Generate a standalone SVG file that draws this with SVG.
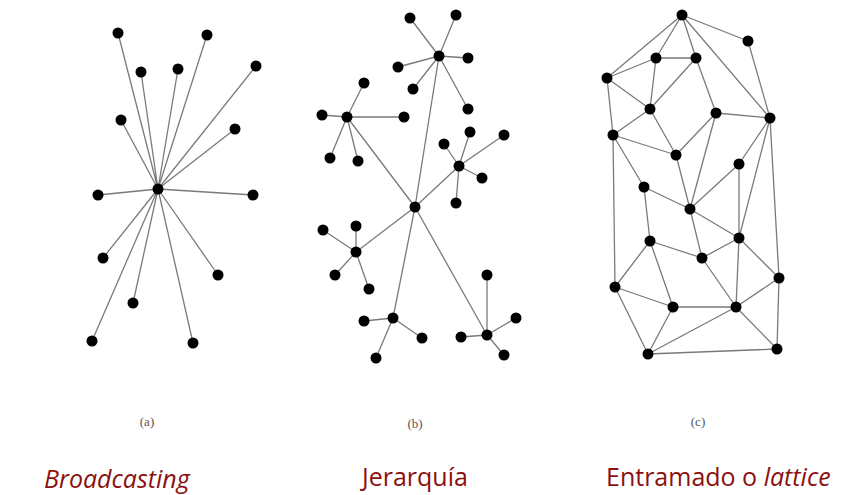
<svg xmlns="http://www.w3.org/2000/svg" width="855" height="495" viewBox="0 0 855 495">
<style>
.e{stroke:#7a7a7a;stroke-width:1.3;fill:none}
.n{fill:#000}
.cap{font-family:"Liberation Serif",serif;font-size:13px;fill:#555}
.lbl{font-family:"Open Sans","Noto Sans",sans-serif;font-size:25px;fill:#8b1010}
</style>
<rect width="855" height="495" fill="#fff"/>
<g id="connectors" class="e">
<!-- panel a -->
<path d="M158,189L118,33M158,189L207,35M158,189L141,72M158,189L178,69M158,189L256,66M158,189L121,120M158,189L235,129M158,189L98,195M158,189L253,195M158,189L103,258M158,189L218,275M158,189L133,303M158,189L92,341M158,189L193,343"/>
<!-- panel b -->
<path d="M439,56L410,18M439,56L456,15M439,56L468,58M439,56L398,67M439,56L413,89M439,56L468,109"/>
<path d="M347,117L364,83M347,117L322,115M347,117L404,117M347,117L330,158M347,117L358,161"/>
<path d="M459,166L470,132M459,166L444,144M459,166L504,135M459,166L482,178M459,166L456,203"/>
<path d="M415,207L439,56M415,207L347,117M415,207L459,166M415,207L356,252M415,207L393,318M415,207L487,335"/>
<path d="M356,252L323,230M356,252L356,226M356,252L335,275M356,252L369,289"/>
<path d="M393,318L364,321M393,318L422,338M393,318L376,358"/>
<path d="M487,335L487,275M487,335L461,337M487,335L516,318M487,335L504,355"/>
<!-- panel c -->
<path d="M682,15L607,78M682,15L656,58M682,15L696,58M682,15L748,41M682,15L770,118M748,41L770,118M656,58L696,58M656,58L607,78M656,58L650,109M696,58L650,109M696,58L716,113M607,78L650,109M607,78L613,135M650,109L613,135M650,109L676,155M716,113L676,155M716,113L770,118M716,113L690,209M676,155L690,209M613,135L676,155M613,135L644,187M613,135L615,287M770,118L739,164M770,118L739,238M770,118L779,278M739,164L739,238M739,164L690,209M644,187L690,209M644,187L650,241M690,209L702,258M690,209L739,238M739,238L702,258M739,238L736,307M739,238L779,278M650,241L702,258M650,241L615,287M650,241L673,307M702,258L736,307M615,287L673,307M615,287L648,354M673,307L736,307M673,307L648,354M736,307L648,354M736,307L779,278M736,307L777,349M648,354L777,349M779,278L777,349"/>
</g>
<g id="broadcast-hub"><circle class="n" cx="158" cy="189" r="5.5"/></g>
<g id="a1"><circle class="n" cx="118" cy="33" r="5.5"/></g>
<g id="a2"><circle class="n" cx="207" cy="35" r="5.5"/></g>
<g id="a3"><circle class="n" cx="141" cy="72" r="5.5"/></g>
<g id="a4"><circle class="n" cx="178" cy="69" r="5.5"/></g>
<g id="a5"><circle class="n" cx="256" cy="66" r="5.5"/></g>
<g id="a6"><circle class="n" cx="121" cy="120" r="5.5"/></g>
<g id="a7"><circle class="n" cx="235" cy="129" r="5.5"/></g>
<g id="a8"><circle class="n" cx="98" cy="195" r="5.5"/></g>
<g id="a9"><circle class="n" cx="253" cy="195" r="5.5"/></g>
<g id="a10"><circle class="n" cx="103" cy="258" r="5.5"/></g>
<g id="a11"><circle class="n" cx="218" cy="275" r="5.5"/></g>
<g id="a12"><circle class="n" cx="133" cy="303" r="5.5"/></g>
<g id="a13"><circle class="n" cx="92" cy="341" r="5.5"/></g>
<g id="a14"><circle class="n" cx="193" cy="343" r="5.5"/></g>

<g id="b-root"><circle class="n" cx="415" cy="207" r="5.5"/></g>
<g id="b-h1"><circle class="n" cx="439" cy="56" r="5.5"/></g>
<g id="b-h1-1"><circle class="n" cx="410" cy="18" r="5.5"/></g>
<g id="b-h1-2"><circle class="n" cx="456" cy="15" r="5.5"/></g>
<g id="b-h1-3"><circle class="n" cx="468" cy="58" r="5.5"/></g>
<g id="b-h1-4"><circle class="n" cx="398" cy="67" r="5.5"/></g>
<g id="b-h1-5"><circle class="n" cx="413" cy="89" r="5.5"/></g>
<g id="b-h1-6"><circle class="n" cx="468" cy="109" r="5.5"/></g>
<g id="b-h2"><circle class="n" cx="347" cy="117" r="5.5"/></g>
<g id="b-h2-1"><circle class="n" cx="364" cy="83" r="5.5"/></g>
<g id="b-h2-2"><circle class="n" cx="322" cy="115" r="5.5"/></g>
<g id="b-h2-3"><circle class="n" cx="404" cy="117" r="5.5"/></g>
<g id="b-h2-4"><circle class="n" cx="330" cy="158" r="5.5"/></g>
<g id="b-h2-5"><circle class="n" cx="358" cy="161" r="5.5"/></g>
<g id="b-h3"><circle class="n" cx="459" cy="166" r="5.5"/></g>
<g id="b-h3-1"><circle class="n" cx="470" cy="132" r="5.5"/></g>
<g id="b-h3-2"><circle class="n" cx="444" cy="144" r="5.5"/></g>
<g id="b-h3-3"><circle class="n" cx="504" cy="135" r="5.5"/></g>
<g id="b-h3-4"><circle class="n" cx="482" cy="178" r="5.5"/></g>
<g id="b-h3-5"><circle class="n" cx="456" cy="203" r="5.5"/></g>
<g id="b-h4"><circle class="n" cx="356" cy="252" r="5.5"/></g>
<g id="b-h4-1"><circle class="n" cx="323" cy="230" r="5.5"/></g>
<g id="b-h4-2"><circle class="n" cx="356" cy="226" r="5.5"/></g>
<g id="b-h4-3"><circle class="n" cx="335" cy="275" r="5.5"/></g>
<g id="b-h4-4"><circle class="n" cx="369" cy="289" r="5.5"/></g>
<g id="b-h5"><circle class="n" cx="393" cy="318" r="5.5"/></g>
<g id="b-h5-1"><circle class="n" cx="364" cy="321" r="5.5"/></g>
<g id="b-h5-2"><circle class="n" cx="422" cy="338" r="5.5"/></g>
<g id="b-h5-3"><circle class="n" cx="376" cy="358" r="5.5"/></g>
<g id="b-h6"><circle class="n" cx="487" cy="335" r="5.5"/></g>
<g id="b-h6-1"><circle class="n" cx="487" cy="275" r="5.5"/></g>
<g id="b-h6-2"><circle class="n" cx="461" cy="337" r="5.5"/></g>
<g id="b-h6-3"><circle class="n" cx="516" cy="318" r="5.5"/></g>
<g id="b-h6-4"><circle class="n" cx="504" cy="355" r="5.5"/></g>

<g id="c-A"><circle class="n" cx="682" cy="15" r="5.5"/></g>
<g id="c-B"><circle class="n" cx="748" cy="41" r="5.5"/></g>
<g id="c-C"><circle class="n" cx="656" cy="58" r="5.5"/></g>
<g id="c-D"><circle class="n" cx="696" cy="58" r="5.5"/></g>
<g id="c-E"><circle class="n" cx="607" cy="78" r="5.5"/></g>
<g id="c-F"><circle class="n" cx="650" cy="109" r="5.5"/></g>
<g id="c-G"><circle class="n" cx="716" cy="113" r="5.5"/></g>
<g id="c-H"><circle class="n" cx="770" cy="118" r="5.5"/></g>
<g id="c-I"><circle class="n" cx="613" cy="135" r="5.5"/></g>
<g id="c-J"><circle class="n" cx="676" cy="155" r="5.5"/></g>
<g id="c-K"><circle class="n" cx="739" cy="164" r="5.5"/></g>
<g id="c-L"><circle class="n" cx="644" cy="187" r="5.5"/></g>
<g id="c-M"><circle class="n" cx="690" cy="209" r="5.5"/></g>
<g id="c-N"><circle class="n" cx="739" cy="238" r="5.5"/></g>
<g id="c-O"><circle class="n" cx="650" cy="241" r="5.5"/></g>
<g id="c-P"><circle class="n" cx="702" cy="258" r="5.5"/></g>
<g id="c-Q"><circle class="n" cx="779" cy="278" r="5.5"/></g>
<g id="c-R"><circle class="n" cx="615" cy="287" r="5.5"/></g>
<g id="c-S"><circle class="n" cx="673" cy="307" r="5.5"/></g>
<g id="c-T"><circle class="n" cx="736" cy="307" r="5.5"/></g>
<g id="c-U"><circle class="n" cx="648" cy="354" r="5.5"/></g>
<g id="c-V"><circle class="n" cx="777" cy="349" r="5.5"/></g>

<g id="captions">
<text class="cap" x="147" y="426" text-anchor="middle">(a)</text>
<text class="cap" x="415" y="428" text-anchor="middle">(b)</text>
<text class="cap" x="698" y="426" text-anchor="middle">(c)</text>
</g>
<g id="labels">
<text class="lbl" x="44" y="488" font-style="italic">Broadcasting</text>
<text class="lbl" x="362" y="486">Jerarquía</text>
<text class="lbl" x="606" y="486">Entramado o <tspan font-style="italic">lattice</tspan></text>
</g>
</svg>
